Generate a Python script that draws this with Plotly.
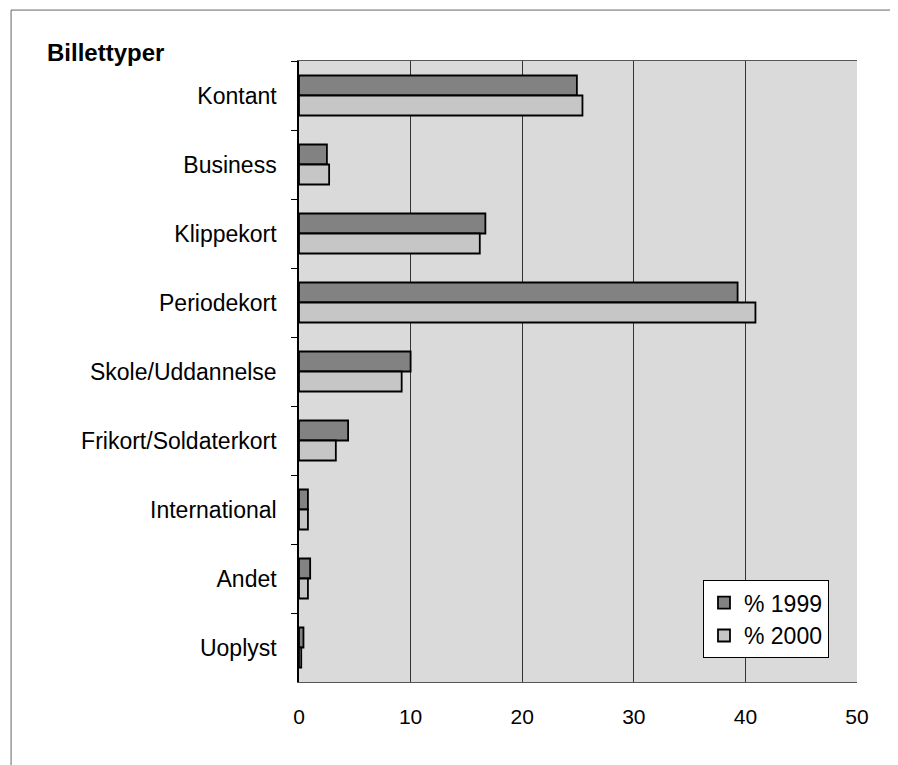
import plotly.graph_objects as go

categories = ["Kontant", "Business", "Klippekort", "Periodekort", "Skole/Uddannelse",
              "Frikort/Soldaterkort", "International", "Andet", "Uoplyst"]
pct_1999 = [24.9, 2.5, 16.7, 39.3, 10.0, 4.4, 0.8, 1.0, 0.4]
pct_2000 = [25.4, 2.7, 16.2, 40.9, 9.2, 3.3, 0.8, 0.8, 0.2]
x_ticks = [0, 10, 20, 30, 40, 50]

font = "Liberation Sans, Arial, sans-serif"

fig = go.Figure()
fig.add_trace(go.Bar(y=categories, x=pct_1999, orientation="h", name="% 1999",
                     marker=dict(color="#828282", line=dict(color="black", width=1.8))))
fig.add_trace(go.Bar(y=categories, x=pct_2000, orientation="h", name="% 2000",
                     marker=dict(color="#c6c6c6", line=dict(color="black", width=1.8))))

fig.update_layout(
    width=890, height=757,
    margin=dict(l=291, r=41, t=53, b=83),
    paper_bgcolor="white",
    plot_bgcolor="#dadada",
    barmode="group",
    bargap=0.42,
    bargroupgap=0,
    font=dict(family=font, size=16, color="black"),
    showlegend=True,
    legend=dict(x=0.724, y=0.164, xanchor="left", yanchor="top",
                bgcolor="white", bordercolor="black", borderwidth=1,
                font=dict(size=23), tracegroupgap=8, itemwidth=30),
    xaxis=dict(range=[0, 50], tickvals=x_ticks, showgrid=True, gridcolor="#333333",
               gridwidth=1, zeroline=False, showline=True, linecolor="#555555",
               mirror=True, ticks="outside", ticklen=16, tickcolor="rgba(0,0,0,0)",
               tickfont=dict(size=21)),
    yaxis=dict(autorange="reversed", type="category", tickson="boundaries",
               ticks="outside", ticklen=6, tickcolor="black", showgrid=False,
               showline=True, linecolor="black", linewidth=1.5,
               ticklabelstandoff=16, tickfont=dict(size=23)),
    annotations=[dict(text="<b>Billettyper</b>", xref="paper", yref="paper",
                      x=-0.455, y=1.013, xanchor="left", yanchor="middle",
                      showarrow=False, font=dict(size=24))],
    shapes=[
        dict(type="line", xref="paper", yref="paper", x0=-0.516, x1=1.2,
             y0=1.082, y1=1.082, line=dict(color="#666666", width=1)),
        dict(type="line", xref="paper", yref="paper", x0=-0.516, x1=-0.516,
             y0=1.082, y1=-0.2, line=dict(color="#666666", width=1)),
    ],
)

fig.write_html("out.html")
